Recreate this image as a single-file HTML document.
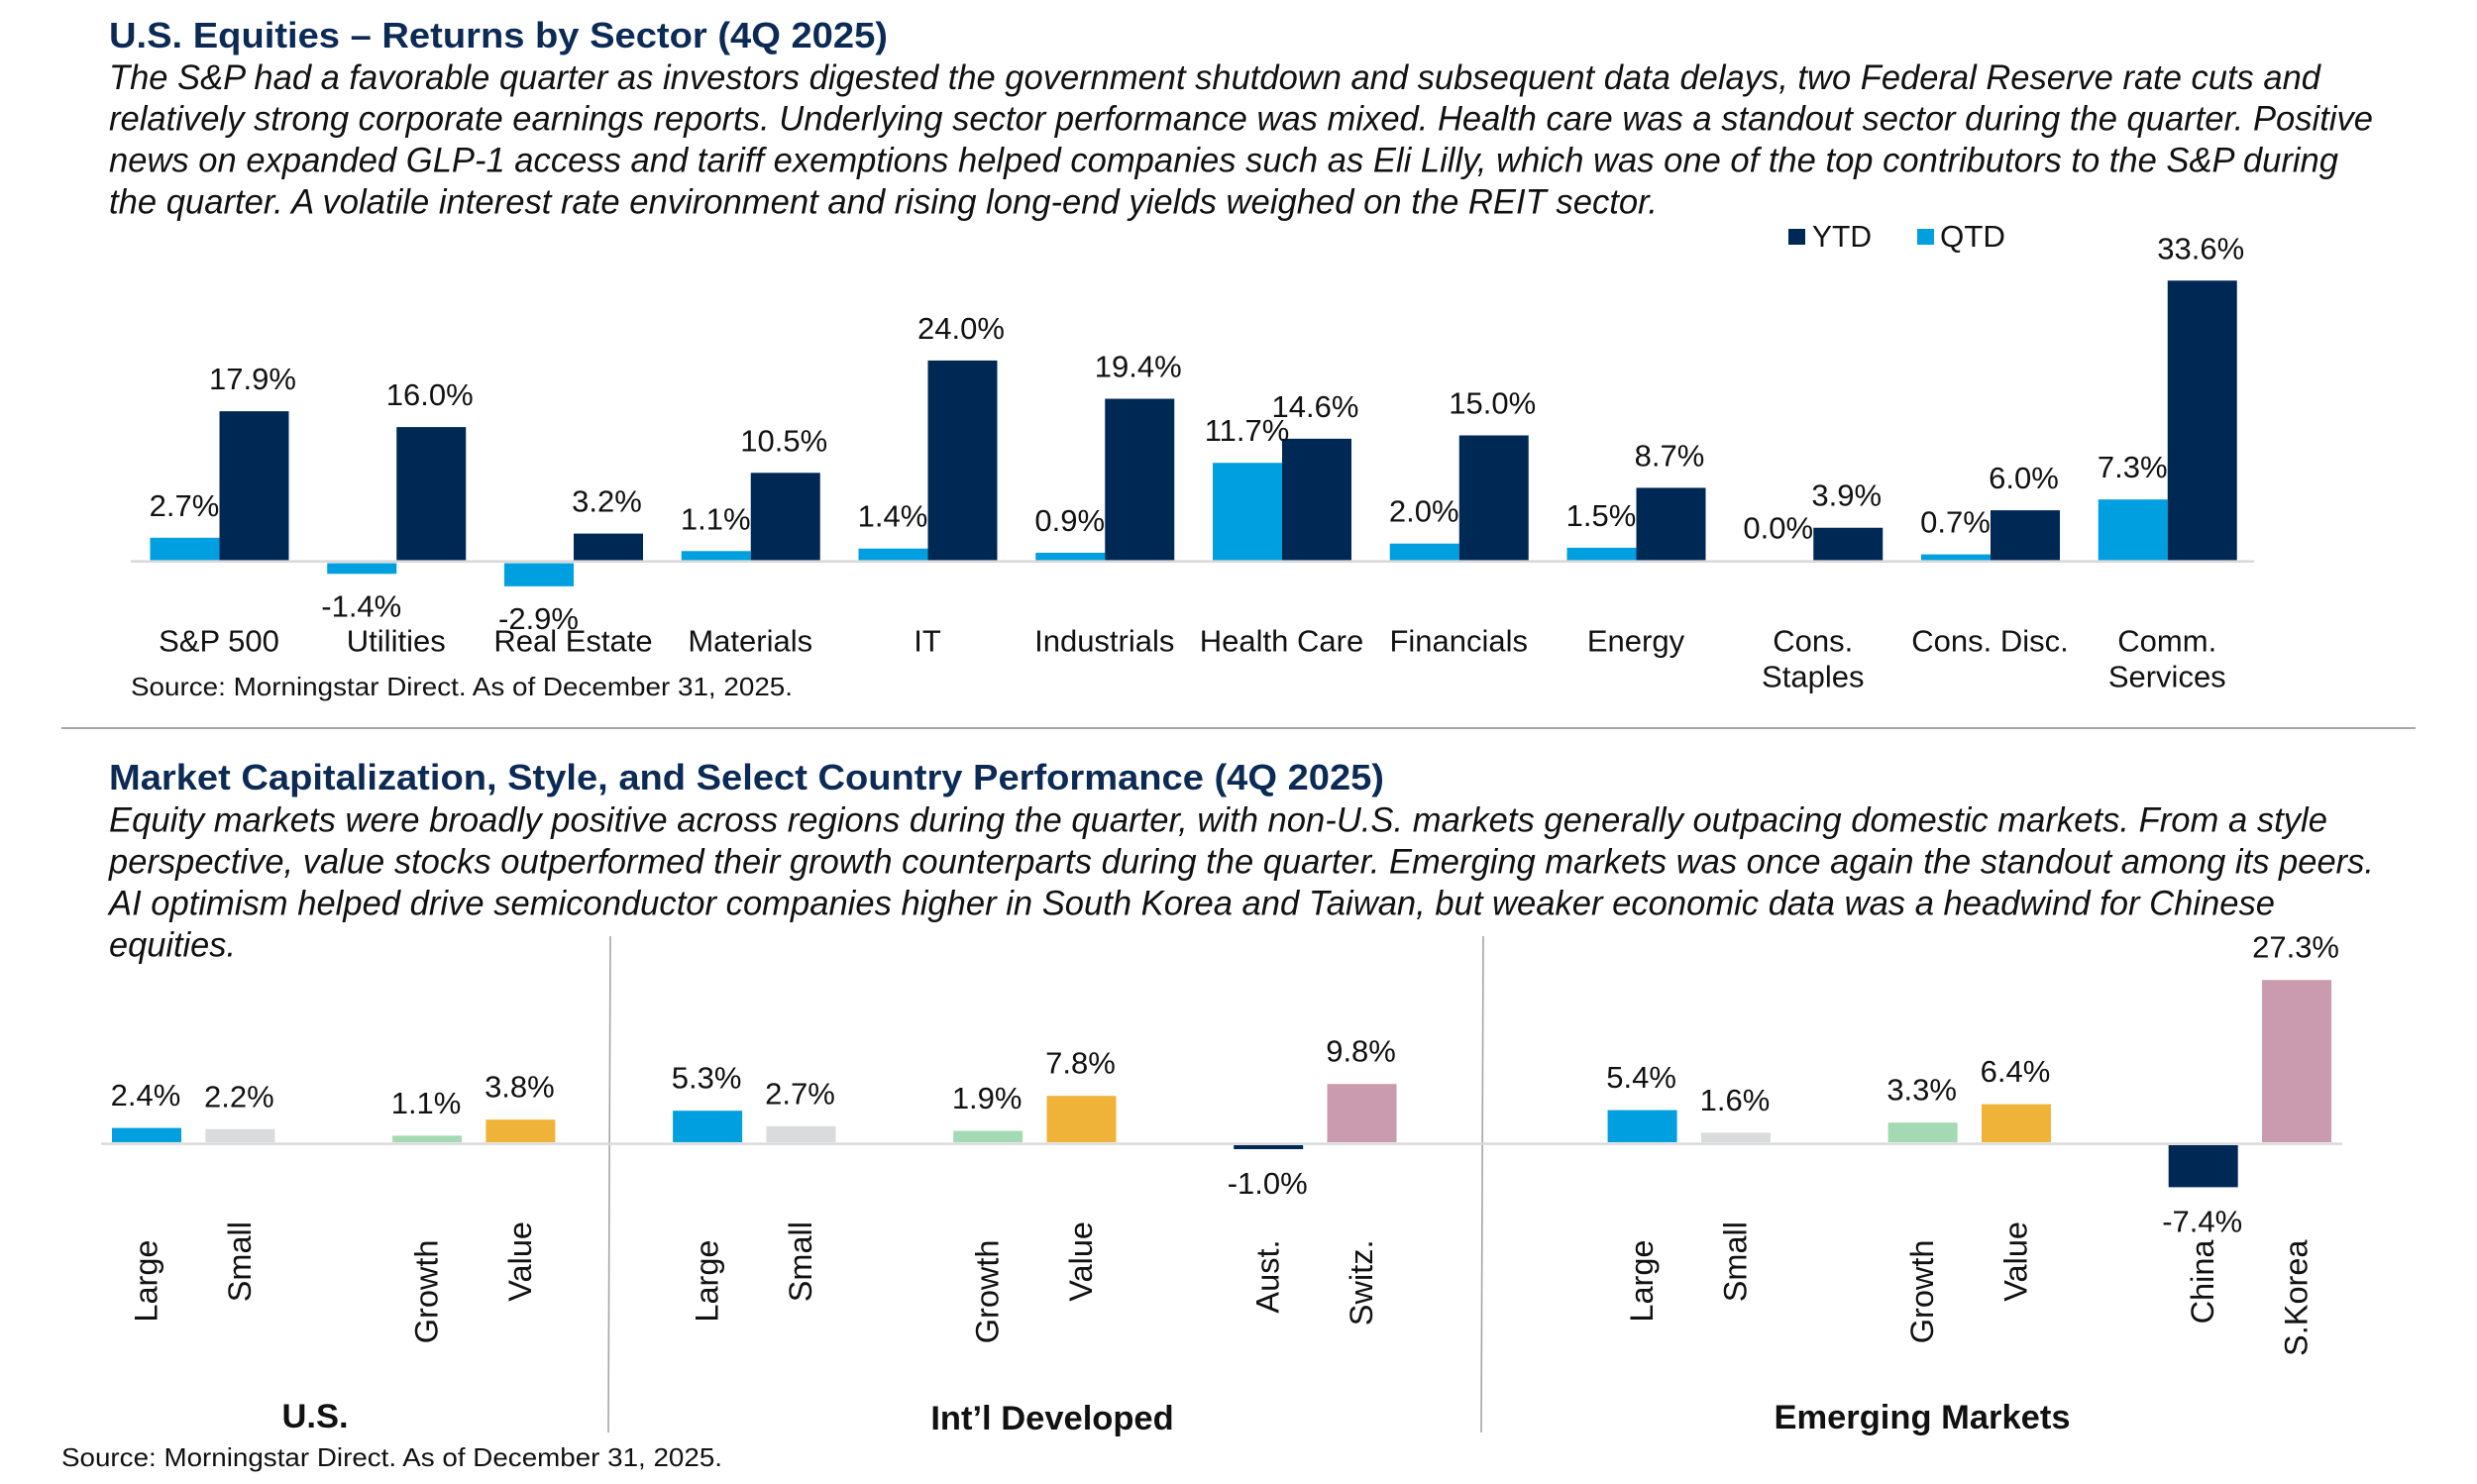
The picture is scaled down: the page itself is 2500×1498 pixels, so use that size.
<!DOCTYPE html>
<html lang="en">
<head>
<meta charset="utf-8">
<title>U.S. Equities and Market Performance (4Q 2025)</title>
<style>
html,body{margin:0;padding:0;background:#fff;}
svg{display:block;font-family:"Liberation Sans",Arial,sans-serif;}
.title{font-size:36px;font-weight:700;fill:#0b2a55;}
.body{font-size:35px;font-style:italic;fill:#111;}
.src{font-size:26px;fill:#111;}
.lab{font-size:31px;fill:#111;}
.rot{font-size:32.5px;fill:#111;}
.grp{font-size:34.5px;font-weight:700;fill:#111;}
</style>
</head>
<body>
<svg id="page" width="2500" height="1498" viewBox="0 0 2500 1498" xmlns="http://www.w3.org/2000/svg">
<rect x="0" y="0" width="2500" height="1498" fill="#fff"/>

<text class="title" x="110" y="48" textLength="786" lengthAdjust="spacingAndGlyphs">U.S. Equities – Returns by Sector (4Q 2025)</text>
<text class="body" x="110" y="90" textLength="2232" lengthAdjust="spacingAndGlyphs">The S&amp;P had a favorable quarter as investors digested the government shutdown and subsequent data delays, two Federal Reserve rate cuts and</text>
<text class="body" x="110" y="131.5" textLength="2285" lengthAdjust="spacingAndGlyphs">relatively strong corporate earnings reports. Underlying sector performance was mixed. Health care was a standout sector during the quarter. Positive</text>
<text class="body" x="110" y="173.5" textLength="2250" lengthAdjust="spacingAndGlyphs">news on expanded GLP-1 access and tariff exemptions helped companies such as Eli Lilly, which was one of the top contributors to the S&amp;P during</text>
<text class="body" x="110" y="215.5" textLength="1563" lengthAdjust="spacingAndGlyphs">the quarter. A volatile interest rate environment and rising long-end yields weighed on the REIT sector.</text>

<g>
  <rect x="1805" y="231" width="17" height="16" fill="#002855"/>
  <text class="lab" x="1829" y="249" textLength="60" lengthAdjust="spacingAndGlyphs">YTD</text>
  <rect x="1935" y="231" width="17" height="16" fill="#009fdf"/>
  <text class="lab" x="1958" y="249" textLength="66" lengthAdjust="spacingAndGlyphs">QTD</text>
</g>

<g id="sector-chart"></g>

<text class="src" x="132" y="702" textLength="668" lengthAdjust="spacingAndGlyphs">Source: Morningstar Direct. As of December 31, 2025.</text>
<line x1="62" y1="735" x2="2438" y2="735" stroke="#a6a6a6" stroke-width="2"/>

<text class="title" x="110" y="797" textLength="1287" lengthAdjust="spacingAndGlyphs">Market Capitalization, Style, and Select Country Performance (4Q 2025)</text>
<text class="body" x="110" y="839.5" textLength="2239" lengthAdjust="spacingAndGlyphs">Equity markets were broadly positive across regions during the quarter, with non-U.S. markets generally outpacing domestic markets. From a style</text>
<text class="body" x="110" y="881.5" textLength="2286" lengthAdjust="spacingAndGlyphs">perspective, value stocks outperformed their growth counterparts during the quarter. Emerging markets was once again the standout among its peers.</text>
<text class="body" x="110" y="923.5" textLength="2186" lengthAdjust="spacingAndGlyphs">AI optimism helped drive semiconductor companies higher in South Korea and Taiwan, but weaker economic data was a headwind for Chinese</text>
<text class="body" x="110" y="965.5" textLength="128" lengthAdjust="spacingAndGlyphs">equities.</text>

<line x1="616" y1="945" x2="614" y2="1446" stroke="#a6a6a6" stroke-width="1.6"/>
<line x1="1497" y1="945" x2="1495" y2="1446" stroke="#a6a6a6" stroke-width="1.6"/>

<g id="market-chart"></g>

<text class="grp" x="318" y="1441" text-anchor="middle">U.S.</text>
<text class="grp" x="1062" y="1443" text-anchor="middle">Int’l Developed</text>
<text class="grp" x="1940" y="1442" text-anchor="middle">Emerging Markets</text>
<text class="src" x="62" y="1480" textLength="667" lengthAdjust="spacingAndGlyphs">Source: Morningstar Direct. As of December 31, 2025.</text>
</svg>

<script>
// Sector chart data
const sectorNames = ['S&P 500','Utilities','Real Estate','Materials','IT','Industrials','Health Care','Financials','Energy','Cons.|Staples','Cons. Disc.','Comm.|Services'];
const qtdValues = [2.7,-1.4,-2.9,1.1,1.4,0.9,11.7,2.0,1.5,0.0,0.7,7.3];
const ytdValues = [17.9,16.0,3.2,10.5,24.0,19.4,14.6,15.0,8.7,3.9,6.0,33.6];

// Market chart data (null = empty spacer category)
const marketCategories = ['Large','Small',null,'Growth','Value',null,'Large','Small',null,'Growth','Value',null,'Aust.','Switz.',null,null,'Large','Small',null,'Growth','Value',null,'China','S.Korea'];
const marketValues = [2.4,2.2,null,1.1,3.8,null,5.3,2.7,null,1.9,7.8,null,-1.0,9.8,null,null,5.4,1.6,null,3.3,6.4,null,-7.4,27.3];

const SVGNS = 'http://www.w3.org/2000/svg';
const NAVY = '#002855', BLUE = '#009fdf';
const marketColor = {'Large':BLUE,'Small':'#d9dbdc','Growth':'#a3dab4','Value':'#f0b339','Aust.':NAVY,'Switz.':'#ca9bae','China':NAVY,'S.Korea':'#ca9bae'};

function pct(v){ return v.toFixed(1) + '%'; }
function make(tag, parent){ const el = document.createElementNS(SVGNS, tag); parent.appendChild(el); return el; }
function setRect(el, x, y0, y1, w, fill){
  el.setAttribute('x', x);
  el.setAttribute('y', Math.min(y0, y1));
  el.setAttribute('width', w);
  el.setAttribute('height', Math.abs(y1 - y0));
  el.setAttribute('fill', fill);
}
function setText(el, x, y, str, cls){
  el.setAttribute('x', x);
  el.setAttribute('y', y);
  el.setAttribute('class', cls);
  el.setAttribute('text-anchor', 'middle');
  el.textContent = str;
}

// Sector chart axes: positive bars sit on the axis, negative bars hang just below it
const sectorCenter = i => 221.5 + i * 178.75;
const sectorY = v => (v >= 0 ? 565.5 : 567.5) - v * 8.4;
const sectorBase = v => v >= 0 ? 565.5 : 568.5;
const sectorBarW = 70;
const sectorRoot = document.getElementById('sector-chart');

sectorNames.forEach((name, i) => {
  const cx = sectorCenter(i);

  const qBar = make('rect', sectorRoot);
  
  
  setRect(qBar, cx - sectorBarW, sectorBase(qtdValues[i]), sectorY(qtdValues[i]), sectorBarW, BLUE);

  const yBar = make('rect', sectorRoot);
  
  
  setRect(yBar, cx, sectorBase(ytdValues[i]), sectorY(ytdValues[i]), sectorBarW, NAVY);
});

const sectorAxis = make('line', sectorRoot);


sectorAxis.setAttribute('x1', 132);
sectorAxis.setAttribute('x2', 2275);
sectorAxis.setAttribute('y1', 566.7);
sectorAxis.setAttribute('y2', 566.7);
sectorAxis.setAttribute('stroke', '#d9d9d9');
sectorAxis.setAttribute('stroke-width', 2.6);

sectorNames.forEach((name, i) => {
  const cx = sectorCenter(i);
  const q = qtdValues[i], y = ytdValues[i];

  const qLab = make('text', sectorRoot);
  
  
  setText(qLab, cx - sectorBarW / 2 - 0.5, q >= 0 ? sectorY(q) - 22 : sectorY(q) + 43, pct(q), 'lab');

  const yLab = make('text', sectorRoot);
  
  
  setText(yLab, cx + sectorBarW / 2 - 1.5, sectorY(y) - 22, pct(y), 'lab');

  name.split('|').forEach((part, j) => {
    const cat = make('text', sectorRoot);
    
    
    setText(cat, cx - 0.5, 657.5 + j * 36, part, 'lab');
  });
});

// Market chart axes
const slotCenter = k => 148 + k * 94.35;
const marketY = v => (v >= 0 ? 1153 : 1154) - v * 6;
const marketBase = v => v >= 0 ? 1153 : 1156;
const marketBarW = 70;
const marketRoot = document.getElementById('market-chart');

marketCategories.forEach((name, k) => {
  if (name === null) return;
  const bar = make('rect', marketRoot);
  
  
  setRect(bar, slotCenter(k) - marketBarW / 2, marketBase(marketValues[k]), marketY(marketValues[k]), marketBarW, marketColor[name]);
});

const marketAxis = make('line', marketRoot);


marketAxis.setAttribute('x1', 102);
marketAxis.setAttribute('x2', 2364);
marketAxis.setAttribute('y1', 1154.6);
marketAxis.setAttribute('y2', 1154.6);
marketAxis.setAttribute('stroke', '#d9d9d9');
marketAxis.setAttribute('stroke-width', 2.4);

marketCategories.forEach((name, k) => {
  if (name === null) return;
  const cx = slotCenter(k);
  const v = marketValues[k];

  const lab = make('text', marketRoot);
  
  
  setText(lab, cx - 1, v >= 0 ? marketY(v) - 22.5 : marketY(v) + 45, pct(v), 'lab');

  const top = (name === 'Small' || name === 'Value') ? 1233 : 1251.5;
  const cat = make('text', marketRoot);
  
  
  cat.setAttribute('class', 'rot');
  cat.setAttribute('text-anchor', 'end');
  cat.setAttribute('transform', 'translate(' + (cx + 10.5) + ',' + top + ') rotate(-90)');
  cat.textContent = name;
});
</script>
</body>
</html>
